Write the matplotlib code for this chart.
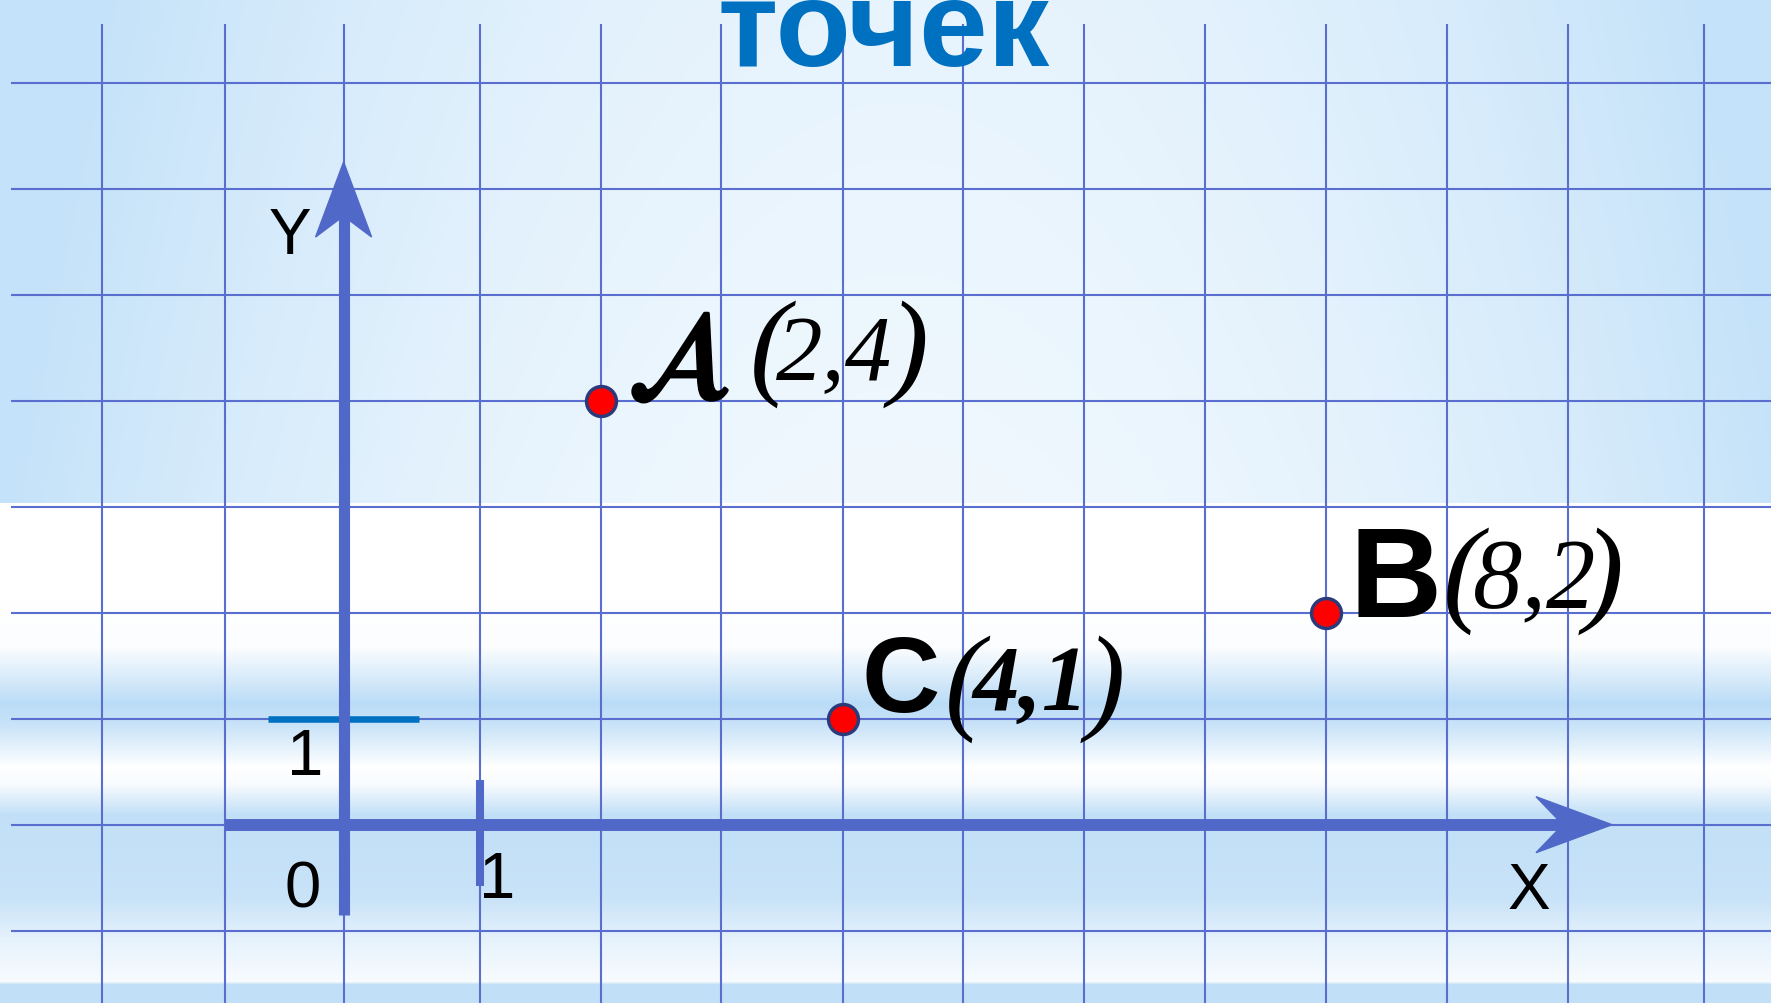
import numpy as np
import matplotlib.pyplot as plt
from matplotlib.patches import Polygon
import matplotlib.patheffects as pe

W, H, DPI = 1771, 1004, 100

# точки на координатной плоскости
names = ["A", "B", "C"]
pts_x = [2, 8, 4]
pts_y = [4, 2, 1]

grid_x = list(range(-2, 12))
grid_y = list(range(-1, 8))
tick_x = [1]
tick_y = [1]

# где на картинке лежат целые деления по X (сетка нарисована неравномерно)
ux = [-4, -2, -1, 0, 1, 2, 3, 4, 5, 6, 7, 8, 9, 10, 11, 13]
px = [-142, 101.7, 224.6, 343.6, 479.5, 600.8, 721.5, 843.3, 963.4,
      1084.5, 1205.2, 1326, 1447, 1568, 1704, 1975]
Y0_PX, Y_UNIT = 825.7, 105.9


def fwd(x):
    return np.interp(x, ux, px)


def inv(p):
    return np.interp(p, px, ux)


def ydata(p):
    return (Y0_PX - p) / Y_UNIT


AXIS_COL = "#5068C8"
GRID_COL = "#5A6ED0"
TICK_COL = "#0070C0"

fig = plt.figure(figsize=(W / DPI, H / DPI), dpi=DPI)

# фон: сверху голубой градиент, снизу полосы
yy, xx = np.mgrid[0:H, 0:W].astype(float)
light = np.array([240, 248, 254]) / 255
blue_top = np.array([196, 226, 249]) / 255
w_top = np.clip(((xx - 900) / 900) ** 2 + (1 - yy / 504) * 0.2, 0, 1)
top = light + (blue_top - light) * w_top[..., None]
prof_y = [504, 600, 648, 704, 726, 768, 785, 815, 900, 940, 982, 985, 1004]
prof_v = [0, 0, 0.05, 0.95, 0.75, 0.0, 0.1, 0.85, 0.75, 0.35, 0.1, 0.85, 0.85]
v = np.interp(yy, prof_y, prof_v)
white = np.array([1.0, 1.0, 1.0])
blue_bot = np.array([183, 218, 246]) / 255
bot = white + (blue_bot - white) * v[..., None]
img = np.where((yy < 504)[..., None], top, bot)

bg = fig.add_axes([0, 0, 1, 1], zorder=0)
bg.imshow(img, aspect="auto", extent=(0, W, H, 0), interpolation="bilinear")
bg.axis("off")

ax = fig.add_axes([0, 0, 1, 1], zorder=1)
ax.patch.set_visible(False)
ax.set_xscale("function", functions=(fwd, inv))
ax.set_xlim(inv(0), inv(W))
ax.set_ylim(ydata(H), ydata(0))
ax.axis("off")

# сетка
ax.vlines(grid_x, ydata(H), ydata(25), color=GRID_COL, lw=1.5, zorder=1)
ax.hlines(grid_y, inv(11), inv(W), color=GRID_COL, lw=1.5, zorder=1)

# оси
x_end, y_end = inv(1612), ydata(163)
ax.plot([-1, inv(1563)], [0, 0], color=AXIS_COL, lw=8.6, solid_capstyle="butt", zorder=3)
ax.plot([0, 0], [ydata(916), ydata(217)], color=AXIS_COL, lw=8.0, solid_capstyle="butt", zorder=3)

tx, ty = ax.transData.transform((x_end, 0))
head_x = [(tx, ty), (tx - 76, ty + 28), (tx - 49, ty), (tx - 76, ty - 28)]
ax.add_patch(Polygon(head_x, closed=True, color=AXIS_COL, transform=None, zorder=3))
tx, ty = ax.transData.transform((0, y_end))
head_y = [(tx, ty), (tx - 28, ty - 75), (tx, ty - 54), (tx + 28, ty - 75)]
ax.add_patch(Polygon(head_y, closed=True, color=AXIS_COL, transform=None, zorder=3))

# единичные отрезки
for t in tick_x:
    ax.plot([t, t], [ydata(781), ydata(887)], color=AXIS_COL, lw=5.8, solid_capstyle="butt", zorder=3)
for t in tick_y:
    ax.plot([inv(268), inv(419)], [t, t], color=TICK_COL, lw=4.7, solid_capstyle="butt", zorder=2)

# точки
ax.plot(pts_x, pts_y, "o", ms=21.5, mfc="#FF0000", mec="#2B3A7A", mew=2.5, zorder=5)

narrow = ["Liberation Sans Narrow", "Liberation Sans"]
letter_style = {
    "A": dict(s=r"$\mathcal{A}$", math_fontfamily="stix", fontsize=88,
              path_effects=[pe.withStroke(linewidth=2.5, foreground="black")]),
    "B": dict(s="B", family=narrow, weight="bold", fontsize=92),
    "C": dict(s="C", family=narrow, weight="bold", fontsize=78),
}
# смещения в пикселях: буква, скобки, цифры
offs = {
    "A": dict(letter=(27, 4.5), lpar=(149, 19.5), nums=(175, 22.5), rpar=(288, 19.5),
              psize=86, nsize=67, nweight="normal"),
    "B": dict(letter=(24, -3), lpar=(117, 4), nums=(147, 7), rpar=(258, 4),
              psize=86, nsize=71, nweight="normal"),
    "C": dict(letter=(18, 8), lpar=(102, 2), nums=(129, 10), rpar=(242, 2),
              psize=85, nsize=67, nweight="bold"),
}

for name, x, y in zip(names, pts_x, pts_y):
    st = dict(letter_style[name])
    s = st.pop("s")
    o = offs[name]
    ax.annotate(s, xy=(x, y), xytext=o["letter"], textcoords="offset pixels",
                ha="left", va="baseline", color="black", zorder=6, **st)
    serif = dict(family="Liberation Serif", style="italic", color="black",
                 textcoords="offset pixels", ha="left", va="baseline", zorder=6)
    ax.annotate("(", xy=(x, y), xytext=o["lpar"], fontsize=o["psize"], **serif)
    ax.annotate(f"{x},{y}", xy=(x, y), xytext=o["nums"], fontsize=o["nsize"],
                weight=o["nweight"], **serif)
    ax.annotate(")", xy=(x, y), xytext=o["rpar"], fontsize=o["psize"], **serif)

# подписи осей
sans = dict(family="Liberation Sans", color="black", ha="center", va="baseline")
fig.text(289.5 / W, 1 - 254 / H, "Y", fontsize=46, **sans)
fig.text(1529 / W, 1 - 909 / H, "X", fontsize=46, **sans)
fig.text(302.5 / W, 1 - 908 / H, "0", fontsize=47, **sans)
fig.text(305 / W, 1 - 775 / H, "1", fontsize=47, **sans)
fig.text(497 / W, 1 - 898 / H, "1", fontsize=47, **sans)

fig.text(884 / W, 1 - 66 / H, "точек", fontsize=88.7, weight="bold",
         family="Liberation Sans", color=TICK_COL, ha="center", va="baseline")

fig.savefig("out.png", dpi=DPI)
